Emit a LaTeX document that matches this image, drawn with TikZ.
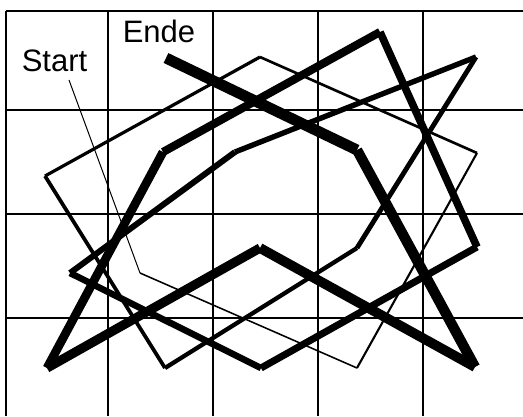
\documentclass[tikz,border=0pt]{standalone}
\usepackage{fontspec}
\setmainfont{Liberation Sans}
\usetikzlibrary{calc}

\begin{document}
\begin{tikzpicture}[x=1pt,y=-1pt,line width=1.8pt]
  \useasboundingbox (0,0) rectangle (523,416);
  % grid
  \foreach \gx in {6,108,213,318,423}
    \draw (\gx,11) -- (\gx,416);
  \foreach \gy in {11,110,214,318}
    \draw (6,\gy) -- (523,\gy);
  % corners of the walk
  \coordinate (p0) at (69,80);
  \coordinate (p1) at (140,273);
  \coordinate (p2) at (357,368);
  \coordinate (p3) at (477,153);
  \coordinate (p4) at (260,57);
  \coordinate (p5) at (45,176);
  \coordinate (p6) at (165,368);
  \coordinate (p7) at (357,248);
  \coordinate (p8) at (476,57);
  \coordinate (p9) at (235,152);
  \coordinate (p10) at (70,273);
  \coordinate (p11) at (261,368);
  \coordinate (p12) at (477,247);
  \coordinate (p13) at (380,32);
  \coordinate (p14) at (163,152);
  \coordinate (p15) at (47,368);
  \coordinate (p16) at (260,248);
  \coordinate (p17) at (475,367);
  \coordinate (p18) at (357,150);
  \coordinate (p19) at (166,58);
  % each leg a bit heavier than the last
  \foreach \i [remember=\i as \j (initially 0),
               evaluate=\i as \w using 0.55*\i+0.45] in {1,...,19}
    \draw[line width=\w pt] (p\j) -- (p\i);
  \node[inner sep=0pt,font=\fontsize{31}{37}\selectfont] (start) at (54.5,61) {Start};
  \node[inner sep=0pt,font=\fontsize{31}{37}\selectfont] (ende) at (159,31) {Ende};
\end{tikzpicture}
\end{document}
